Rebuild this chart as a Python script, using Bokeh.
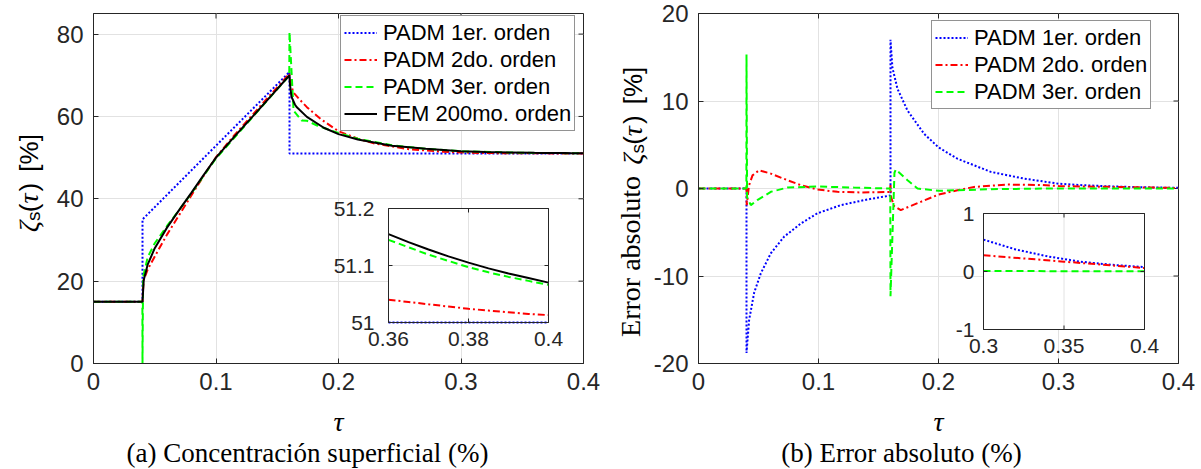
import math
import numpy as np
from bokeh.plotting import figure
from bokeh.models import (Range1d, LinearAxis, FixedTicker, Legend, LegendItem, Grid)
from bokeh.layouts import row, column
from bokeh.core.properties import value
from bokeh.embed import file_html
from bokeh.resources import INLINE

# ---------------- data ----------------
fem_t = [0, 0.04, 0.041, 0.0442, 0.05, 0.06, 0.07, 0.08, 0.09, 0.1, 0.115, 0.13, 0.145, 0.16,
         0.1603, 0.1616, 0.1644, 0.1658, 0.1742, 0.188, 0.2, 0.2158, 0.2436, 0.2713, 0.3, 0.32,
         0.34, 0.36, 0.365, 0.37, 0.375, 0.38, 0.385, 0.39, 0.395, 0.4]
fem_v = [15, 15, 20.3, 24.0, 28.0, 33.0, 37.3, 41.5, 45.8, 50.0, 55.1, 60.0, 65.0, 70.0,
         68.0, 64.8, 62.9, 62.3, 59.9, 57.25, 55.7, 54.4, 52.9, 52.13, 51.55, 51.36,
         51.25, 51.155, 51.141, 51.128, 51.116, 51.105, 51.095, 51.086, 51.078, 51.07]

p1_t = [0, 0.04, 0.04, 0.1, 0.16, 0.16, 0.36, 0.4]
p1_v = [15, 15, 35, 52.9, 70.8, 51, 51, 51]

p2_t = [0, 0.04, 0.0402, 0.041, 0.0442, 0.05, 0.06, 0.07, 0.08, 0.09, 0.1, 0.115, 0.13, 0.145,
        0.16, 0.1603, 0.163, 0.1686, 0.1742, 0.1853, 0.2, 0.2158, 0.2297, 0.2575, 0.2853, 0.313,
        0.34, 0.36, 0.365, 0.37, 0.375, 0.38, 0.385, 0.39, 0.395, 0.4]
p2_v = [15, 15, 16.9, 20.3, 22.8, 26.0, 31.3, 36.1, 40.85, 45.6, 50.1, 55.45, 60.45, 65.45,
        70.4, 69.0, 65.9, 64.0, 62.25, 59.4, 56.4, 54.6, 53.4, 52.05, 51.41, 51.13,
        51.06, 51.04, 51.036, 51.032, 51.028, 51.024, 51.021, 51.018, 51.015, 51.013]

p3_t = [0, 0.0399, 0.04, 0.0405, 0.0442, 0.05, 0.06, 0.07, 0.08, 0.09, 0.1, 0.13, 0.145, 0.1598,
        0.16, 0.1633, 0.17, 0.1742, 0.1825, 0.2, 0.2158, 0.2436, 0.2713, 0.3, 0.34, 0.36, 0.365,
        0.37, 0.375, 0.38, 0.385, 0.39, 0.395, 0.4]
p3_v = [15, 15, 0, 21.0, 25.8, 29.2, 33.4, 37.3, 41.35, 45.6, 49.8, 59.9, 64.95, 69.9,
        80.5, 61.4, 59.0, 58.96, 57.8, 55.97, 54.6, 52.98, 52.15, 51.56, 51.24, 51.145, 51.132,
        51.119, 51.108, 51.097, 51.088, 51.08, 51.073, 51.066]

# absolute error (FEM - PADM)
e1_t = [0, 0.04, 0.04, 0.0422, 0.0464, 0.0519, 0.0603, 0.0714, 0.0853, 0.099, 0.1186, 0.1408,
        0.16, 0.16, 0.1616, 0.1658, 0.1742, 0.188, 0.2, 0.2158, 0.2436, 0.2713, 0.3, 0.32, 0.34,
        0.36, 0.38, 0.4]
e1_v = [0, 0, -18.8, -15.0, -11.9, -9.7, -7.4, -5.5, -4.0, -2.84, -1.9, -1.25,
        -0.8, 17.0, 13.8, 11.4, 8.9, 6.25, 4.7, 3.4, 1.9, 1.13, 0.55, 0.38, 0.26,
        0.17, 0.115, 0.075]

e2_t = [0, 0.04, 0.0402, 0.042, 0.045, 0.0505, 0.0603, 0.0742, 0.0853, 0.099, 0.1158, 0.135,
        0.1595, 0.16, 0.1605, 0.163, 0.1686, 0.1853, 0.2, 0.2158, 0.2297, 0.2575, 0.2853, 0.3,
        0.35, 0.4]
e2_v = [0, 0, -1.9, 0.3, 1.5, 2.08, 1.7, 0.94, 0.38, -0.11, -0.38, -0.45,
        -0.4, 0.4, -1.0, -2.0, -2.47, -1.52, -0.69, -0.2, 0.18, 0.45, 0.4, 0.28,
        0.17, 0.06]

e3_t = [0, 0.0399, 0.04, 0.0405, 0.0436, 0.049, 0.0603, 0.0742, 0.099, 0.13, 0.1598, 0.16,
        0.1633, 0.1644, 0.1742, 0.1825, 0.2, 0.2158, 0.2436, 0.3, 0.35, 0.4]
e3_v = [0, 0, 15.3, -1.0, -1.9, -1.33, -0.38, 0.11, 0.23, 0.1, 0, -12.3,
        1.8, 2.16, 0.94, 0, -0.27, -0.2, -0.08, 0.01, 0.005, 0.005]

labels_a = ["PADM 1er. orden", "PADM 2do. orden", "PADM 3er. orden", "FEM 200mo. orden"]
labels_b = ["PADM 1er. orden", "PADM 2do. orden", "PADM 3er. orden"]

x_ticks = [0, 0.1, 0.2, 0.3, 0.4]
x_tick_labels = ["0", "0.1", "0.2", "0.3", "0.4"]
ya_ticks = [0, 20, 40, 60, 80]
ya_tick_labels = ["0", "20", "40", "60", "80"]
yb_ticks = [-20, -10, 0, 10, 20]
yb_tick_labels = ["-20", "-10", "0", "10", "20"]

ina_x_ticks = [0.36, 0.38, 0.4]
ina_x_labels = ["0.36", "0.38", "0.4"]
ina_y_ticks = [51, 51.1, 51.2]
ina_y_labels = ["51", "51.1", "51.2"]
inb_x_ticks = [0.3, 0.35, 0.4]
inb_x_labels = ["0.3", "0.35", "0.4"]
inb_y_ticks = [-1, 0, 1]
inb_y_labels = ["-1", "0", "1"]

caption_a = "(a) Concentración superficial (%)"
caption_b = "(b) Error absoluto (%)"

# ---------------- styles ----------------
SANS = "Liberation Sans"
SERIF = "Liberation Serif"
TXT = "#262626"
GRID = "#e2e2e2"
HT = 405            # height of the upper band (plots)
TOP, BOTTOM = 13, 363
STY = [dict(line_color="#0000ff", line_width=2, line_dash="2 2"),
       dict(line_color="#ff0000", line_width=2, line_dash="7 3 2 3"),
       dict(line_color="#00ff00", line_width=2, line_dash="7 4"),
       dict(line_color="#000000", line_width=2)]


def make_fig(width, fl, fr, xr, yr, xt, xl, yt, yl):
    p = figure(width=width, height=HT, x_range=Range1d(*xr), y_range=Range1d(*yr),
               output_backend="svg", toolbar_location=None,
               min_border_left=fl, min_border_right=width - fr,
               min_border_top=TOP, min_border_bottom=HT - BOTTOM,
               x_axis_type=None, y_axis_type=None)
    p.outline_line_color = TXT
    p.outline_line_width = 1
    p.outline_line_alpha = 1
    p.background_fill_color = "white"
    p.border_fill_color = "white"
    for loc, ticks, labs in [("below", xt, xl), ("left", yt, yl)]:
        ax = LinearAxis(ticker=FixedTicker(ticks=ticks))
        ax.major_tick_in = 5
        ax.major_tick_out = 0
        ax.minor_tick_line_color = None
        ax.axis_line_color = TXT
        ax.major_tick_line_color = TXT
        ax.major_label_overrides = dict(zip(ticks, labs))
        ax.major_label_text_font = SANS
        ax.major_label_text_font_size = "24px"
        ax.major_label_text_color = TXT
        ax.major_label_standoff = 9 if loc == "below" else 10
        p.add_layout(ax, loc)
    p.add_layout(Grid(dimension=0, ticker=FixedTicker(ticks=xt), grid_line_color=GRID))
    p.add_layout(Grid(dimension=1, ticker=FixedTicker(ticks=yt), grid_line_color=GRID))
    # inward ticks on the top and right edges of the box
    p.ray(x=xt, y=[yr[1]] * len(xt), length=5, length_units="screen", angle=-math.pi / 2,
          line_color=TXT, line_width=1)
    p.ray(x=[xr[1]] * len(yt), y=yt, length=5, length_units="screen", angle=math.pi,
          line_color=TXT, line_width=1)
    return p


def add_inset(p, fl, fr, box, xr, yr, series, xt, xl, yt, yl, ylab_gap):
    bl, br, bt, bb = box
    sx = (xr[1] - xr[0]) / (br - bl)
    sy = (yr[1] - yr[0]) / (bb - bt)
    p.extra_x_ranges["ix"] = Range1d(xr[0] - (bl - fl) * sx, xr[1] + (fr - br) * sx)
    p.extra_y_ranges["iy"] = Range1d(yr[0] - (BOTTOM - bb) * sy, yr[1] + (bt - TOP) * sy)
    kw = dict(x_range_name="ix", y_range_name="iy")
    p.quad(left=[xr[0]], right=[xr[1]], bottom=[yr[0]], top=[yr[1]], fill_color="white",
           line_color=None, **kw)
    p.segment(x0=xt[1:-1], x1=xt[1:-1], y0=[yr[0]] * (len(xt) - 2), y1=[yr[1]] * (len(xt) - 2),
              line_color=GRID, line_width=1, **kw)
    p.segment(y0=yt[1:-1], y1=yt[1:-1], x0=[xr[0]] * (len(yt) - 2), x1=[xr[1]] * (len(yt) - 2),
              line_color=GRID, line_width=1, **kw)
    for (t, v), st in series:
        t = np.asarray(t, dtype=float)
        v = np.asarray(v, dtype=float)
        m = (t >= xr[0] - 1e-9)
        p.line(t[m], v[m], **st, **kw)
    p.quad(left=[xr[0]], right=[xr[1]], bottom=[yr[0]], top=[yr[1]], fill_color=None,
           line_color=TXT, line_width=1, **kw)
    n = len(xt)
    p.ray(x=xt, y=[yr[0]] * n, length=4, length_units="screen", angle=math.pi / 2, line_color=TXT, **kw)
    p.ray(x=xt, y=[yr[1]] * n, length=4, length_units="screen", angle=-math.pi / 2, line_color=TXT, **kw)
    m_ = len(yt)
    p.ray(x=[xr[0]] * m_, y=yt, length=4, length_units="screen", angle=0, line_color=TXT, **kw)
    p.ray(x=[xr[1]] * m_, y=yt, length=4, length_units="screen", angle=math.pi, line_color=TXT, **kw)
    p.text(x=xt, y=[yr[0]] * n, text=xl, text_font=value(SANS), text_font_size="21px",
           text_color=TXT, text_align="center", text_baseline="top", y_offset=9, **kw)
    p.text(x=[xr[0]] * m_, y=yt, text=yl, text_font=value(SANS), text_font_size="21px",
           text_color=TXT, text_align="right", text_baseline="middle", x_offset=-ylab_gap, **kw)


def strip(width, height):
    s = figure(width=width, height=height, x_range=Range1d(0, width), y_range=Range1d(0, height),
               output_backend="svg", toolbar_location=None, min_border=0,
               x_axis_type=None, y_axis_type=None)
    s.outline_line_color = None
    s.background_fill_color = "white"
    s.border_fill_color = "white"
    s.grid.visible = False
    return s


def txt(s, h, px, py, text, font, size, style="normal", angle=0.0, align="left"):
    s.text(x=[px], y=[h - py], text=[text], text_font=value(font), text_font_size=size,
           text_font_style=style, angle=angle, text_align=align, text_baseline="middle",
           text_color="black")


R90 = math.pi / 2

# ---------------- y label strip (a) ----------------
ya = strip(50, HT)
txt(ya, HT, 28, 253, "ζ", SERIF, "28px", "italic", R90)
txt(ya, HT, 33, 240, "s", SANS, "19px", "normal", R90)
txt(ya, HT, 28, 230, "(", SANS, "26px", "normal", R90)
txt(ya, HT, 28, 220, "τ", SERIF, "28px", "italic", R90)
txt(ya, HT, 28, 206, ")", SANS, "26px", "normal", R90)
txt(ya, HT, 28, 183, "[%]", SANS, "26px", "normal", R90)

# ---------------- panel (a) ----------------
AL, AR = 43, 533
pa = make_fig(550, AL, AR, (0, 0.4), (0, 85), x_ticks, x_tick_labels, ya_ticks, ya_tick_labels)
ra = []
for (t, v), st in zip([(p1_t, p1_v), (p2_t, p2_v), (p3_t, p3_v), (fem_t, fem_v)], STY):
    ra.append(pa.line(t, v, **st))
pa.add_layout(Legend(items=[LegendItem(label=l, renderers=[r]) for l, r in zip(labels_a, ra)],
                     location=(247, 232), label_text_font=SANS, label_text_font_size="22px",
                     label_text_color="black", border_line_color=TXT, border_line_width=1,
                     background_fill_alpha=1, padding=3, spacing=0, margin=0,
                     label_height=27, glyph_height=27, glyph_width=33, label_standoff=6))
add_inset(pa, AL, AR, (338, 498, 208, 322), (0.36, 0.4), (51, 51.2),
          list(zip([(p1_t, p1_v), (p2_t, p2_v), (p3_t, p3_v), (fem_t, fem_v)], STY)),
          ina_x_ticks, ina_x_labels, ina_y_ticks, ina_y_labels, 14)

# ---------------- y label strip (b) ----------------
yb = strip(50, HT)
txt(yb, HT, 30, 188, "Error absoluto", SERIF, "28px", "normal", R90, "right")
txt(yb, HT, 32, 175, "ζ", SERIF, "28px", "italic", R90)
txt(yb, HT, 37, 162, "s", SANS, "19px", "normal", R90)
txt(yb, HT, 32, 152, "(", SANS, "26px", "normal", R90)
txt(yb, HT, 32, 142, "τ", SERIF, "28px", "italic", R90)
txt(yb, HT, 32, 128, ")", SANS, "26px", "normal", R90)
txt(yb, HT, 32, 105, "[%]", SANS, "26px", "normal", R90)

# ---------------- panel (b) ----------------
BL, BR = 48, 528
pb = make_fig(551, BL, BR, (0, 0.4), (-20, 20), x_ticks, x_tick_labels, yb_ticks, yb_tick_labels)
rb = []
for (t, v), st in zip([(e1_t, e1_v), (e2_t, e2_v), (e3_t, e3_v)], STY[:3]):
    rb.append(pb.line(t, v, **st))
pb.add_layout(Legend(items=[LegendItem(label=l, renderers=[r]) for l, r in zip(labels_b, rb)],
                     location=(233, 254), label_text_font=SANS, label_text_font_size="22px",
                     label_text_color="black", border_line_color=TXT, border_line_width=1,
                     background_fill_alpha=1, padding=3, spacing=0, margin=0,
                     label_height=27, glyph_height=27, glyph_width=33, label_standoff=6))
add_inset(pb, BL, BR, (333, 494, 213, 329), (0.3, 0.4), (-1, 1),
          list(zip([(e1_t, e1_v), (e2_t, e2_v), (e3_t, e3_v)], STY[:3])),
          inb_x_ticks, inb_x_labels, inb_y_ticks, inb_y_labels, 9)

# ---------------- bottom strip: x labels and captions ----------------
HB = 469 - HT
bot = strip(1201, HB)
txt(bot, HB, 338, 421 - HT, "τ", SERIF, "28px", "italic", 0.0, "center")
txt(bot, HB, 938, 421 - HT, "τ", SERIF, "28px", "italic", 0.0, "center")
txt(bot, HB, 307, 452 - HT, caption_a, SERIF, "27px", "normal", 0.0, "center")
txt(bot, HB, 901, 452 - HT, caption_b, SERIF, "27px", "normal", 0.0, "center")

layout = column(row(ya, pa, yb, pb), bot)
open("out.html", "w").write(file_html(layout, INLINE))
